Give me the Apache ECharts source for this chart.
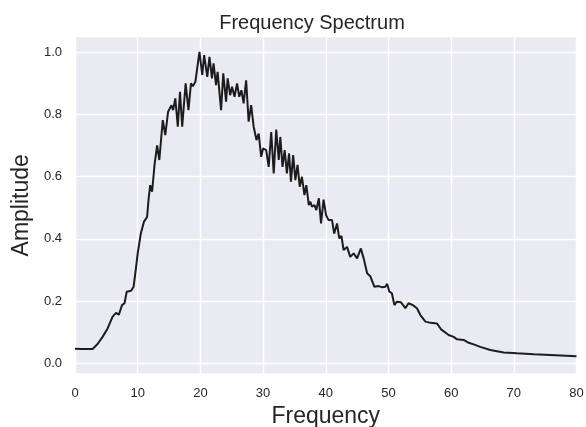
<!DOCTYPE html>
<html>
<head>
<meta charset="utf-8">
<script src="https://cdn.jsdelivr.net/npm/echarts@6/dist/echarts.min.js"></script>
<style>html,body{margin:0;padding:0;background:#fff}#c{width:586px;height:427px}</style>
</head>
<body>
<div id="c"></div>
<script>
var freq = [0,1,2,2.8,3.6,4.4,5.2,6.0,6.55,7.0,7.5,7.9,8.25,8.95,9.35,9.75,10.0,10.5,11.0,11.5,11.75,12.0,12.3,12.7,13.1,13.45,14.0,14.4,14.85,15.4,15.65,16.0,16.4,16.75,17.1,17.65,18.1,18.5,18.8,19.2,19.85,20.3,20.6,21.1,21.45,21.85,22.1,22.5,22.75,23.3,23.65,24.1,24.35,24.75,25.05,25.45,25.85,26.2,26.55,26.9,27.3,27.7,28.1,28.5,28.95,29.3,29.7,30.0,30.5,30.9,31.3,31.7,32.1,32.5,32.75,33.1,33.45,33.8,34.15,34.45,34.8,35.15,35.5,35.85,36.2,36.6,36.9,37.3,37.55,37.8,38.2,38.5,38.9,39.25,39.65,40.05,40.45,40.75,41.0,41.35,41.8,42.15,42.5,42.85,43.4,43.9,44.45,45.0,45.6,46.05,46.6,47.1,47.75,48.45,49.0,49.5,49.8,50.15,50.55,50.95,51.35,52.0,52.7,53.2,53.9,54.55,55.1,55.9,56.7,57.75,58.4,59.6,60.4,60.95,62.0,62.8,63.6,64.65,66.25,68.4,70.5,73.2,75.8,80.0];
var amplitude = [0.047,0.046,0.046,0.046,0.062,0.085,0.112,0.150,0.162,0.156,0.187,0.193,0.230,0.233,0.246,0.31,0.353,0.417,0.455,0.47,0.53,0.572,0.551,0.64,0.70,0.653,0.781,0.733,0.808,0.829,0.813,0.851,0.76,0.872,0.76,0.899,0.813,0.899,0.89,0.904,1.0,0.926,0.99,0.92,0.984,0.915,0.963,0.893,0.936,0.813,0.931,0.84,0.915,0.861,0.888,0.856,0.899,0.856,0.877,0.835,0.909,0.776,0.829,0.76,0.717,0.738,0.663,0.69,0.685,0.631,0.743,0.61,0.751,0.653,0.727,0.631,0.685,0.61,0.674,0.583,0.669,0.588,0.637,0.567,0.599,0.54,0.572,0.508,0.519,0.503,0.508,0.492,0.53,0.449,0.526,0.476,0.46,0.455,0.46,0.417,0.449,0.401,0.409,0.364,0.374,0.342,0.353,0.337,0.369,0.337,0.289,0.28,0.246,0.248,0.244,0.246,0.255,0.23,0.225,0.187,0.198,0.196,0.177,0.193,0.187,0.177,0.155,0.134,0.13,0.128,0.109,0.091,0.085,0.077,0.075,0.066,0.061,0.053,0.043,0.035,0.032,0.029,0.027,0.023];
var yTicks = [0, 0.2, 0.4, 0.6, 0.8, 1.0];
var xTicks = [0, 10, 20, 30, 40, 50, 60, 70, 80];
var titleText = 'Frequency Spectrum';
var xName = 'Frequency';
var yName = 'Amplitude';

var points = freq.map(function (f, i) { return [f, amplitude[i]]; });
var chart = echarts.init(document.getElementById('c'), null, {renderer: 'canvas'});
var FONT = 'Liberation Sans, Arial, sans-serif';
chart.setOption({
  animation: false,
  backgroundColor: '#ffffff',
  title: {
    text: titleText, left: 307, top: 8, textAlign: 'center',
    textStyle: {fontFamily: FONT, fontSize: 20, fontWeight: 'normal', color: '#262626'}
  },
  grid: {left: 75, right: 9.5, top: 37.3, bottom: 53.7, show: true, backgroundColor: '#EAEAF2', borderWidth: 0,
    outerBoundsMode: 'none', containLabel: false},
  xAxis: {
    type: 'value', min: xTicks[0], max: xTicks[xTicks.length - 1], interval: 10,
    name: xName, nameLocation: 'middle', nameGap: 27,
    nameTextStyle: {fontFamily: FONT, fontSize: 23, color: '#262626'},
    axisLine: {show: false}, axisTick: {show: false},
    axisLabel: {fontFamily: FONT, fontSize: 13, color: '#262626', margin: 14},
    splitLine: {show: true, lineStyle: {color: '#ffffff', width: 1.4}}
  },
  yAxis: {
    type: 'value', min: -0.032, max: 1.047,
    name: yName, nameLocation: 'middle', nameGap: 40, nameRotate: 90,
    nameTextStyle: {fontFamily: FONT, fontSize: 23, color: '#262626'},
    axisLine: {show: false},
    axisTick: {show: false, customValues: yTicks},
    axisLabel: {fontFamily: FONT, fontSize: 13, color: '#262626', margin: 13, customValues: yTicks,
      formatter: function (v) { return v.toFixed(1); }},
    splitLine: {show: true, lineStyle: {color: '#ffffff', width: 1.4}}
  },
  series: [{
    type: 'line', data: points, showSymbol: false, symbol: 'none',
    lineStyle: {color: '#1c1c1c', width: 2}, z: 3, silent: true
  }]
});
</script>
</body>
</html>
